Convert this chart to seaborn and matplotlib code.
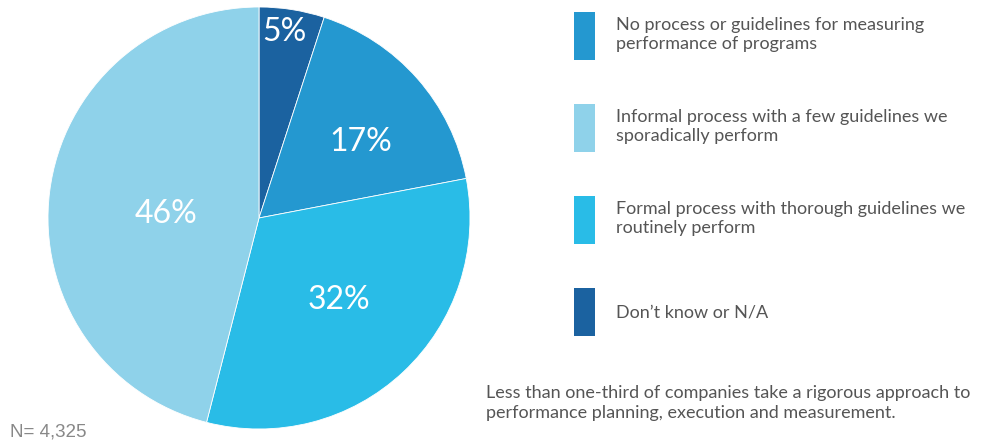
import matplotlib
matplotlib.use("Agg")
import matplotlib.pyplot as plt
import seaborn as sns
from matplotlib.patches import Patch

# dati (in ordine orario partendo dall'alto)
categorie = [
    "Don\u2019t know or N/A",
    "No process or guidelines for measuring\nperformance of programs",
    "Formal process with thorough guidelines we\nroutinely perform",
    "Informal process with a few guidelines we\nsporadically perform",
]
valori = [5, 17, 32, 46]
colori = ["#1b62a0", "#2498d0", "#29bce7", "#8fd2ea"]

# ordine della legenda
ordine_legenda = [1, 3, 2, 0]

nota = "Less than one-third of companies take a rigorous approach to\nperformance planning, execution and measurement."
campione = "N= 4,325"

sns.set_style("white")
plt.rcParams["font.family"] = ["Lato", "DejaVu Sans"]

fig = plt.figure(figsize=(9.84, 4.43), dpi=100)
ax = fig.add_axes([48 / 984, 14 / 443, 422 / 984, 422 / 443])

wedges, texts, autotexts = ax.pie(
    valori,
    colors=colori,
    startangle=90,
    counterclock=False,
    autopct=lambda p: f"{p:.0f}%",
    pctdistance=0.6,
    wedgeprops=dict(edgecolor="white", linewidth=0.6),
    textprops=dict(color="white", fontsize=23),
)
# posizione etichette percentuali
autotexts[0].set_position((0.12, 0.88))
autotexts[1].set_position((0.48, 0.36))
autotexts[2].set_position((0.38, -0.39))
autotexts[3].set_position((-0.44, 0.02))
ax.set_xlim(-1, 1)
ax.set_ylim(-1, 1)
ax.axis("off")

fs = 13
px = fs * 100 / 72
handles = [Patch(facecolor=colori[i], edgecolor="none") for i in ordine_legenda]
labels = [categorie[i] for i in ordine_legenda]
fig.legend(
    handles, labels,
    loc="upper left", bbox_to_anchor=(558 / 984, 1 + 4 / 443),
    frameon=False, fontsize=fs, labelcolor="#555555",
    handlelength=21 / px, handleheight=47 / (px * 0.7), handletextpad=21 / px,
    labelspacing=44 / px, borderpad=7 / px,
)

fig.text(486 / 984, 1 - 403 / 443, nota, fontsize=13, color="#555555",
         va="center", ha="left", linespacing=1.25)
fig.text(10 / 984, 1 - 432 / 443, campione, fontsize=13.5, color="#888888",
         va="center", ha="left", family="Liberation Sans")

fig.savefig("out.png", dpi=100)
